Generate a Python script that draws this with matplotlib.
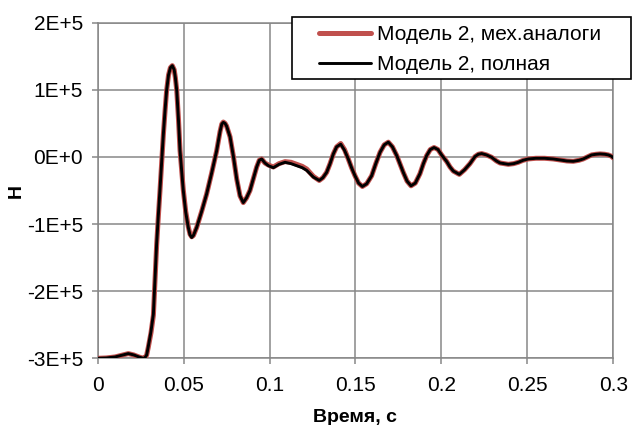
import matplotlib
matplotlib.use("Agg")
import matplotlib.pyplot as plt
from matplotlib.patches import Rectangle
from matplotlib.ticker import FuncFormatter, MultipleLocator
import numpy as np

matplotlib.rcParams['font.family'] = ['Liberation Sans', 'DejaVu Sans']
matplotlib.rcParams['font.size'] = 15

# time, s
t_vals = [0.000, 0.005, 0.0101, 0.014, 0.0178, 0.021, 0.024, 0.0265, 0.0275, 0.0285,
          0.0294, 0.031, 0.0324, 0.0333, 0.0343, 0.0352, 0.0362, 0.0372, 0.0382, 0.0392,
          0.0401, 0.0412, 0.0423, 0.0434, 0.0445, 0.0452, 0.0460, 0.0470, 0.0479, 0.0489,
          0.0498, 0.0512, 0.0527, 0.0537, 0.0547, 0.0557, 0.0576, 0.0605, 0.0634, 0.0663,
          0.0692, 0.0712, 0.0722, 0.0731, 0.0741, 0.0750, 0.0770, 0.0790, 0.0809, 0.0828,
          0.0847, 0.0866, 0.0886, 0.0905, 0.0925, 0.0940, 0.0954, 0.0973, 0.0993, 0.1022,
          0.1055, 0.1090, 0.1125, 0.1158, 0.1190, 0.1216, 0.1255, 0.1289, 0.1310, 0.1332,
          0.1352, 0.1371, 0.1390, 0.1414, 0.1436, 0.1458, 0.1477, 0.1497, 0.1518, 0.1540,
          0.1565, 0.1594, 0.1618, 0.1643, 0.1667, 0.1691, 0.1715, 0.1740, 0.1760, 0.1778,
          0.1800, 0.1823, 0.1848, 0.1875, 0.1895, 0.1914, 0.1935, 0.1957, 0.1980, 0.2001,
          0.2031, 0.2050, 0.2069, 0.2104, 0.2135, 0.2166, 0.2195, 0.2215, 0.2234, 0.2262,
          0.2292, 0.2320, 0.2341, 0.2389, 0.2420, 0.2447, 0.2475, 0.2505, 0.2550, 0.2600,
          0.2650, 0.2690, 0.2730, 0.2767, 0.2800, 0.2825, 0.2850, 0.2874, 0.2900, 0.2923,
          0.2950, 0.2971, 0.2990, 0.3000]

# force, units of 1E+5 N ("Модель 2, полная")
h_full = [-3.00, -2.995, -2.98, -2.955, -2.93, -2.95, -2.98, -3.00, -2.99, -2.95,
          -2.83, -2.60, -2.34, -1.84, -1.29, -0.90, -0.50, -0.07, 0.34, 0.70,
          0.99, 1.22, 1.33, 1.36, 1.30, 1.18, 0.99, 0.55, 0.09, -0.22,
          -0.50, -0.82, -1.05, -1.16, -1.20, -1.17, -1.05, -0.81, -0.55, -0.24,
          0.09, 0.38, 0.49, 0.515, 0.50, 0.46, 0.30, 0.00, -0.33, -0.58,
          -0.68, -0.61, -0.50, -0.33, -0.15, -0.05, -0.03, -0.09, -0.13, -0.16,
          -0.11, -0.08, -0.10, -0.13, -0.16, -0.20, -0.30, -0.35, -0.31, -0.23,
          -0.10, 0.045, 0.15, 0.19, 0.10, -0.03, -0.16, -0.28, -0.39, -0.44,
          -0.40, -0.28, -0.10, 0.07, 0.18, 0.22, 0.15, 0.02, -0.11, -0.23,
          -0.36, -0.43, -0.39, -0.25, -0.10, 0.02, 0.11, 0.14, 0.11, 0.03,
          -0.07, -0.15, -0.21, -0.26, -0.19, -0.10, 0.005, 0.04, 0.05, 0.03,
          -0.005, -0.06, -0.09, -0.11, -0.10, -0.08, -0.05, -0.03, -0.02, -0.02,
          -0.03, -0.045, -0.06, -0.065, -0.05, -0.03, 0.00, 0.03, 0.04, 0.045,
          0.04, 0.03, 0.01, -0.015]

# force, units of 1E+5 N ("Модель 2, мех.аналоги")
h_mech = [-3.00, -2.995, -2.98, -2.955, -2.93, -2.95, -2.98, -3.00, -2.99, -2.95,
          -2.84, -2.62, -2.36, -1.86, -1.31, -0.92, -0.52, -0.09, 0.33, 0.69,
          0.99, 1.22, 1.33, 1.36, 1.30, 1.18, 0.99, 0.56, 0.10, -0.21,
          -0.49, -0.81, -1.04, -1.15, -1.19, -1.17, -1.05, -0.81, -0.55, -0.24,
          0.09, 0.38, 0.49, 0.52, 0.50, 0.46, 0.30, 0.00, -0.33, -0.58,
          -0.68, -0.61, -0.50, -0.33, -0.15, -0.05, -0.03, -0.09, -0.12, -0.15,
          -0.10, -0.07, -0.08, -0.11, -0.14, -0.18, -0.29, -0.35, -0.31, -0.23,
          -0.10, 0.045, 0.15, 0.20, 0.11, -0.03, -0.16, -0.28, -0.39, -0.44,
          -0.40, -0.28, -0.10, 0.07, 0.18, 0.22, 0.15, 0.02, -0.11, -0.23,
          -0.36, -0.43, -0.39, -0.25, -0.10, 0.02, 0.11, 0.14, 0.11, 0.03,
          -0.07, -0.15, -0.21, -0.26, -0.19, -0.10, 0.005, 0.04, 0.05, 0.03,
          -0.005, -0.06, -0.09, -0.11, -0.10, -0.08, -0.05, -0.03, -0.02, -0.02,
          -0.03, -0.045, -0.06, -0.065, -0.05, -0.03, 0.00, 0.03, 0.04, 0.045,
          0.04, 0.03, 0.01, -0.015]

labels = ["Модель 2, мех.аналоги", "Модель 2, полная"]
x_ticks = [0, 0.05, 0.1, 0.15, 0.2, 0.25, 0.3]
x_tick_labels = ["0", "0.05", "0.1", "0.15", "0.2", "0.25", "0.3"]

GRID = "#878787"


def excel_sci(v, pos):
    if v == 0:
        return "0E+0"
    e = int(np.floor(np.log10(abs(v))))
    m = v / 10 ** e
    return "%dE+%d" % (round(m), e)


def main():
    fig = plt.figure(figsize=(6.32, 4.25), dpi=100)
    ax = fig.add_axes([97.7 / 632, 1 - 358.3 / 425,
                       (613.3 - 97.7) / 632, (358.3 - 22.7) / 425])

    t = np.array(t_vals)
    l1, = ax.plot(t, np.array(h_mech) * 1e5, color="#C0504D", lw=3.6,
                  solid_capstyle="round", solid_joinstyle="round", zorder=3)
    l2, = ax.plot(t, np.array(h_full) * 1e5, color="black", lw=2.1,
                  solid_capstyle="round", solid_joinstyle="round", zorder=4)

    ax.set_xlim(0, 0.3)
    ax.set_ylim(-3e5, 2e5)
    ax.set_xticks(x_ticks)
    ax.set_xticklabels(x_tick_labels)
    ax.yaxis.set_major_locator(MultipleLocator(1e5))
    ax.yaxis.set_major_formatter(FuncFormatter(excel_sci))

    ax.grid(True, color=GRID, lw=1.1)
    ax.set_axisbelow(True)
    for s in ax.spines.values():
        s.set_color(GRID)
        s.set_linewidth(1.1)
    ax.tick_params(direction="out", length=4.5, width=1.1, color=GRID,
                   labelsize=15)
    ax.tick_params(axis="y", pad=6)
    ax.tick_params(axis="x", pad=8)

    ax.set_xlabel("Время, с", fontweight="bold", fontsize=14)
    ax.set_ylabel("Н", fontweight="bold", fontsize=14)
    ax.xaxis.set_label_coords(0.5, -0.15)
    ax.yaxis.set_label_coords(-0.141, 0.5)

    # legend box
    fig.patches.append(Rectangle((292 / 632, 1 - 79.3 / 425),
                                 (631 - 292) / 632, 62 / 425,
                                 transform=fig.transFigure, fill=True,
                                 facecolor="white", edgecolor="black",
                                 lw=1.2, zorder=5))
    fig.legend([l1, l2], labels, loc="upper left",
               bbox_to_anchor=(319 / 632, 1 - 25.5 / 425),
               frameon=False, fontsize=15, handlelength=2.5,
               handletextpad=0.3, borderpad=0, borderaxespad=0,
               labelspacing=0.52)

    fig.savefig("out.png", dpi=100)
    plt.close()


if __name__ == '__main__':
    main()
